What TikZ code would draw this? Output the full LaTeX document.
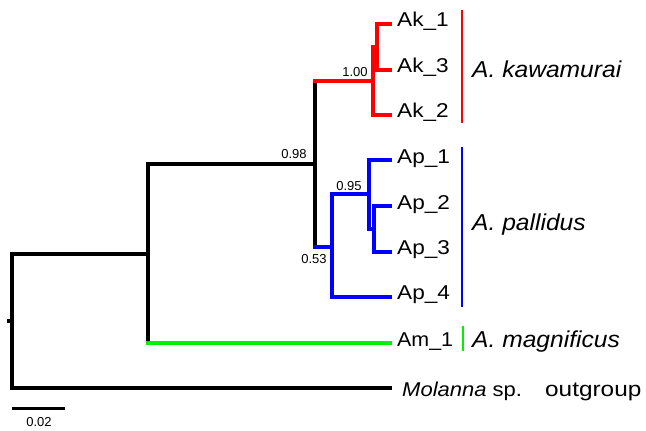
\documentclass[tikz,border=0pt]{standalone}
\usepackage{fontspec}
\usepackage{graphicx}
\setmainfont{Liberation Sans}
\definecolor{cladered}{RGB}{255,0,0}
\definecolor{cladeblue}{RGB}{0,0,255}
\definecolor{cladegreen}{RGB}{0,240,0}
\newcommand{\hstretch}[2]{\scalebox{#1}[1]{#2}}
\begin{document}
\begin{tikzpicture}[x=1pt,y=-1pt,
  br/.style={line width=4pt},
  stem/.style={line width=4pt,line cap=rect},
  cbar/.style={line width=2pt},
  tiplab/.style={anchor=base west,inner sep=0pt,font=\fontsize{20}{20}\selectfont},
  splab/.style={anchor=base west,inner sep=0pt,font=\fontsize{23}{23}\selectfont\itshape},
  suplab/.style={inner sep=0pt,font=\fontsize{13}{13}\selectfont},
]
\useasboundingbox (0,0) rectangle (646,431);
% tips
\coordinate (tK1) at (392,24);
\coordinate (tK3) at (392,70);
\coordinate (tK2) at (392,115);
\coordinate (tP1) at (392,160);
\coordinate (tP2) at (392,206);
\coordinate (tP3) at (392,252);
\coordinate (tP4) at (392,297);
\coordinate (tAm) at (390,343);
\coordinate (tMol) at (392,388);
% internal nodes
\coordinate (nK13) at (377,47);
\coordinate (nK) at (373,81);
\coordinate (nA) at (315,164);
\coordinate (nP) at (332,247);
\coordinate (nP123) at (369,194);
\coordinate (nP23) at (374,229);
\coordinate (nIn) at (148,253.5);
\coordinate (root) at (12,320.5);
\coordinate (rootstub) at (7,320.5);
% black backbone
\draw[br] (rootstub) -- (root);
\draw[br] (root) |- (nIn);
\draw[br] (root) |- (tMol);
\draw[br] (nIn) |- (nA);
\draw[br] (nIn) -- (nIn |- tAm);
\draw[br] (nA) -- (nA |- nK);
\draw[br] (nA) -- (nA |- nP);
% green
\draw[stem,cladegreen] (nIn |- tAm) -- (tAm);
% red clade
\draw[stem,cladered] (nA |- nK) -- (nK);
\draw[br,cladered] (nK) |- (nK13);
\draw[br,cladered] (nK) |- (tK2);
\draw[br,cladered] (nK13) |- (tK1);
\draw[br,cladered] (nK13) |- (tK3);
% blue clade
\draw[stem,cladeblue] (nA |- nP) -- (nP);
\draw[br,cladeblue] (nP) |- (nP123);
\draw[br,cladeblue] (nP) |- (tP4);
\draw[br,cladeblue] (nP123) |- (tP1);
\draw[br,cladeblue] (nP123) |- (nP23);
\draw[br,cladeblue] (nP23) |- (tP2);
\draw[br,cladeblue] (nP23) |- (tP3);
% tip labels
\node[tiplab] (lK1) at (397,27) {\hstretch{1.13}{Ak\_1}};
\node[tiplab] (lK3) at (397,72.5) {\hstretch{1.13}{Ak\_3}};
\node[tiplab] (lK2) at (397,117.5) {\hstretch{1.13}{Ak\_2}};
\node[tiplab] (lP1) at (397,163.5) {\hstretch{1.13}{Ap\_1}};
\node[tiplab] (lP2) at (397,209) {\hstretch{1.13}{Ap\_2}};
\node[tiplab] (lP3) at (397,254.5) {\hstretch{1.13}{Ap\_3}};
\node[tiplab] (lP4) at (397,299.5) {\hstretch{1.13}{Ap\_4}};
\node[tiplab] (lAm) at (397,346.5) {\hstretch{1.07}{Am\_1}};
\node[tiplab] (lMol) at (402,396) {\hstretch{1.1}{\textit{Molanna} sp.}};
\node[anchor=base west,inner sep=0pt,font=\fontsize{21}{21}\selectfont] (lOut) at (545,396) {\hstretch{1.16}{outgroup}};
% support values
\node[suplab] (s100) at (355,72) {1.00};
\node[suplab] (s098) at (294,154) {0.98};
\node[suplab] (s095) at (349,186) {0.95};
\node[suplab] (s053) at (314,259) {0.53};
% clade bars
\coordinate (bK1) at (462,10);
\coordinate (bK2) at (462,123);
\coordinate (bP1) at (462,147);
\coordinate (bP2) at (462,307);
\coordinate (bM1) at (463,326);
\coordinate (bM2) at (463,351);
\draw[cbar,cladered] (bK1) -- (bK2);
\draw[cbar,cladeblue] (bP1) -- (bP2);
\draw[cbar,cladegreen] (bM1) -- (bM2);
\node[splab] (lkaw) at (472,77) {\hstretch{1.07}{A. kawamurai}};
\node[splab] (lpal) at (472,230) {\hstretch{1.07}{A. pallidus}};
\node[splab] (lmag) at (472,347) {\hstretch{1.07}{A. magnificus}};
% scale bar
\coordinate (sb1) at (12,408);
\coordinate (sb2) at (65,408);
\draw[line width=3pt] (sb1) -- (sb2);
\node[suplab] (lsb) at (39,422) {0.02};
\end{tikzpicture}
\end{document}
